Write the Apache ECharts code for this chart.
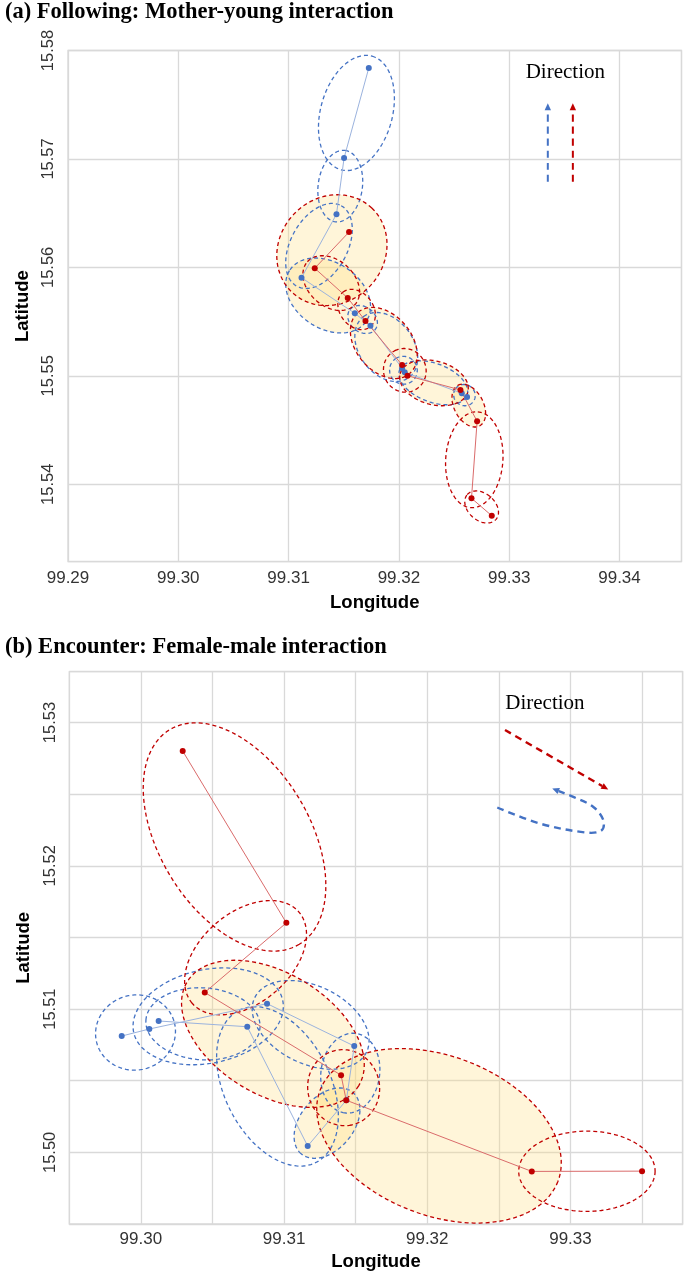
<!DOCTYPE html>
<html><head><meta charset="utf-8">
<script src="https://cdn.jsdelivr.net/npm/echarts@6/dist/echarts.min.js"></script>
<style>html,body{margin:0;padding:0;background:#fff}#c{width:685px;height:1272px}</style>
</head><body><div id="c"></div>
<script>
// ---------- (a) Following: Mother-young interaction ----------
const aRedLon  = [99.32842, 99.32658, 99.32709, 99.32558, 99.32078, 99.32029, 99.31697, 99.31536, 99.31237, 99.31548];
const aRedLat  = [15.53710, 15.53871, 15.54581, 15.54870, 15.55001, 15.55100, 15.55506, 15.55718, 15.55992, 15.56326];
const aBlueLon = [99.32618, 99.32570, 99.32053, 99.32029, 99.31742, 99.31600, 99.31117, 99.31434, 99.31503, 99.31727];
const aBlueLat = [15.54805, 15.54839, 15.55033, 15.55070, 15.55462, 15.55577, 15.55905, 15.56490, 15.57009, 15.57839];
// semi-major axis of each movement ellipse (degrees), one per consecutive pair
const aRedReach  = [0.00175, 0.00443, 0.00212, 0.00323, 0.00203, 0.00369, 0.00203, 0.00295, 0.00535];
const aRedFill   = [0, 0, 1, 1, 0, 1, 0, 0, 1];
const aBlueReach = [0.00101, 0.00332, 0.00129, 0.00350, 0.00148, 0.00424, 0.00424, 0.00332, 0.00543];
const aBlueFill  = [0, 0, 0, 0, 0, 1, 0, 0, 0];
const aArrowBlueLon = [99.33350, 99.33350];
const aArrowBlueLat = [15.56790, 15.57513];
const aArrowRedLon  = [99.33577, 99.33577];
const aArrowRedLat  = [15.56790, 15.57513];
const aNoteLon = 99.33509, aNoteLat = 15.57795;

// ---------- (b) Encounter: Female-male interaction ----------
const bRedLon  = [99.30292, 99.31016, 99.30446, 99.31398, 99.31434, 99.32730, 99.33500];
const bRedLat  = [15.52801, 15.51602, 15.51116, 15.50539, 15.50364, 15.49867, 15.49869];
const bBlueLon = [99.29866, 99.30059, 99.30881, 99.31490, 99.31435, 99.31165, 99.30743, 99.30124];
const bBlueLat = [15.50812, 15.50861, 15.51038, 15.50742, 15.50364, 15.50044, 15.50877, 15.50917];
const bRedReach  = [0.00875, 0.00490, 0.00700, 0.00266, 0.00889, 0.00476];
const bRedFill   = [0, 0, 1, 0, 1, 0];
const bBlueReach = [0.00280, 0.00532, 0.00434, 0.00280, 0.00280, 0.00595, 0.00399];
const bBlueFill  = [0, 0, 0, 0, 1, 0, 0];
const bArrowRedLon  = [99.32543, 99.33264];
const bArrowRedLat  = [15.52948, 15.52533];
const bArrowBlueLon = [99.32489, 99.32787, 99.33114, 99.33218, 99.33230, 99.33160, 99.33020, 99.32873];
const bArrowBlueLat = [15.52407, 15.52295, 15.52232, 15.52248, 15.52318, 15.52411, 15.52481, 15.52540];
const bNoteLon = 99.32822, bNoteLat = 15.53134;

// axis tick labels
const aXTicks = ['99.29','99.30','99.31','99.32','99.33','99.34'];
const aYTicks = ['15.54','15.55','15.56','15.57','15.58'];
const bXTicks = ['99.30','99.31','99.32','99.33'];
const bYTicks = ['15.50','15.51','15.52','15.53'];

const RED = '#C00000', BLUE = '#4472C4';
const RED_LINE = '#DA6B6B', BLUE_LINE = '#9BB3DE';
const FILL = 'rgba(255, 222, 130, 0.30)';

function pairs(lon, lat) { return lon.map((v, i) => [v, lat[i]]); }
function ellipseData(lon, lat, reach, fill) {
  const out = [];
  for (let i = 0; i < reach.length; i++) out.push([lon[i], lat[i], lon[i+1], lat[i+1], reach[i], fill[i]]);
  return out;
}
function ellipsePoints(api) {
  const p1 = api.coord([api.value(0), api.value(1)]);
  const p2 = api.coord([api.value(2), api.value(3)]);
  const a = api.size([0, api.value(4)])[1];
  const cx = (p1[0] + p2[0]) / 2, cy = (p1[1] + p2[1]) / 2;
  const dx = p2[0] - p1[0], dy = p2[1] - p1[1];
  const d = Math.hypot(dx, dy);
  const c = d / 2;
  const b = Math.sqrt(Math.max(a * a - c * c, 1));
  const ux = d > 0 ? dx / d : 1, uy = d > 0 ? dy / d : 0;
  const vx = -uy, vy = ux;
  const pts = [];
  for (let k = 0; k < 120; k++) {
    const t = k / 120 * Math.PI * 2;
    const ca = Math.cos(t) * a, sb = Math.sin(t) * b;
    pts.push([cx + ux * ca + vx * sb, cy + uy * ca + vy * sb]);
  }
  return pts;
}
function ellipseSeries(grid, data, color, mode) {
  return {
    type: 'custom', xAxisIndex: grid, yAxisIndex: grid, silent: true,
    z: mode === 'fill' ? 1 : 2,
    encode: { x: 0, y: 1 },
    data: data,
    renderItem: function (params, api) {
      if (mode === 'fill' && !api.value(5)) return null;
      const pts = ellipsePoints(api);
      if (mode === 'fill') {
        return { type: 'polygon', shape: { points: pts }, style: { fill: FILL, stroke: null } };
      }
      return { type: 'polygon', shape: { points: pts },
        style: { fill: null, stroke: color, lineWidth: 1.3, lineDash: [4, 3] } };
    }
  };
}
function trackSeries(grid, lon, lat, color, lineColor) {
  return {
    type: 'line', xAxisIndex: grid, yAxisIndex: grid, z: 4,
    data: pairs(lon, lat), symbol: 'circle', symbolSize: 6, showSymbol: true,
    lineStyle: { color: lineColor, width: 1 }, itemStyle: { color: color },
    emphasis: { disabled: true }
  };
}
function arrowSeries(grid, lon, lat, color, width) {
  return {
    type: 'custom', xAxisIndex: grid, yAxisIndex: grid, silent: true, z: 3,
    data: [[lon[0], lat[0]]],
    renderItem: function (params, api) {
      const pts = lon.map((v, i) => api.coord([v, lat[i]]));
      const n = pts.length;
      const e = pts[n - 1], s = pts[n - 2];
      const dx = e[0] - s[0], dy = e[1] - s[1];
      const d = Math.hypot(dx, dy), ux = dx / d, uy = dy / d;
      const L = 7, W = 3.2;
      const base = [e[0] - ux * L, e[1] - uy * L];
      const line = pts.slice(0, n - 1).concat([base]);
      return { type: 'group', children: [
        { type: 'polyline', shape: { points: line, smooth: 0.35 },
          style: { fill: null, stroke: color, lineWidth: width, lineDash: [7, 5] } },
        { type: 'polygon', shape: { points: [e, [base[0] - uy * W, base[1] + ux * W], [base[0] + uy * W, base[1] - ux * W]] },
          style: { fill: color } }
      ]};
    }
  };
}
function noteSeries(grid, lon, lat) {
  return {
    type: 'custom', xAxisIndex: grid, yAxisIndex: grid, silent: true, z: 3,
    data: [[lon, lat]],
    renderItem: function (params, api) {
      const p = api.coord([api.value(0), api.value(1)]);
      return { type: 'text', x: p[0], y: p[1],
        style: { text: 'Direction', fill: '#000', font: '21px "Liberation Serif", "Times New Roman", serif',
          align: 'center', verticalAlign: 'middle' } };
    }
  };
}
function labelFmt(list) {
  return function (v) {
    const s = v.toFixed(2);
    return (Math.abs(v * 100 - Math.round(v * 100)) < 1e-6 && list.indexOf(s) >= 0) ? s : '';
  };
}
const gridLine = { show: true, lineStyle: { color: '#d9d9d9', width: 1.3 } };
const xLabelStyle = { fontFamily: '"Liberation Sans", Arial, sans-serif', fontSize: 17, color: '#333' };
const yLabelStyle = { fontFamily: '"Liberation Sans", Arial, sans-serif', fontSize: 16.5, color: '#333' };
const nameStyle = { fontFamily: '"Liberation Sans", Arial, sans-serif', fontSize: 18.5, fontWeight: 'bold', color: '#000' };
const titleStyle = { fontFamily: '"Liberation Serif", "Times New Roman", serif', fontWeight: 'bold', fontSize: 22.5, color: '#000' };

const chart = echarts.init(document.getElementById('c'), null, { renderer: 'canvas' });
chart.setOption({
  animation: false,
  backgroundColor: '#fff',
  title: [
    { text: '(a) Following: Mother-young interaction', left: 0, top: -4, textStyle: titleStyle },
    { text: '(b) Encounter: Female-male interaction', left: 0, top: 631, textStyle: titleStyle }
  ],
  grid: [
    { left: 68, top: 50.5, width: 613.5, height: 511.2, show: true, borderColor: '#d9d9d9', borderWidth: 1.3 },
    { left: 69.3, top: 671.7, width: 613.4, height: 552.3, show: true, borderColor: '#d9d9d9', borderWidth: 1.3 }
  ],
  xAxis: [
    { type: 'value', gridIndex: 0, min: 99.29, max: 99.34562, interval: 0.01,
      axisLine: { show: false }, axisTick: { show: false }, splitLine: gridLine,
      axisLabel: Object.assign({ margin: 8, formatter: labelFmt(aXTicks), showMaxLabel: false }, xLabelStyle),
      name: 'Longitude', nameLocation: 'middle', nameGap: 32, nameTextStyle: nameStyle },
    { type: 'value', gridIndex: 1, min: 99.295, max: 99.33784, interval: 0.005,
      axisLine: { show: false }, axisTick: { show: false }, splitLine: gridLine,
      axisLabel: Object.assign({ margin: 7, formatter: labelFmt(bXTicks), showMaxLabel: false, showMinLabel: false }, xLabelStyle),
      name: 'Longitude', nameLocation: 'middle', nameGap: 28, nameTextStyle: nameStyle }
  ],
  yAxis: [
    { type: 'value', gridIndex: 0, min: 15.53286, max: 15.58, minInterval: 0.01, maxInterval: 0.01, splitNumber: 5,
      axisLine: { show: false }, axisTick: { show: false }, splitLine: gridLine,
      axisLabel: Object.assign({ margin: 11, rotate: 90, formatter: labelFmt(aYTicks), showMinLabel: false }, yLabelStyle),
      name: 'Latitude', nameLocation: 'middle', nameRotate: 90, nameGap: 36, nameTextStyle: nameStyle },
    { type: 'value', gridIndex: 1, min: 15.495, max: 15.53355, interval: 0.005,
      axisLine: { show: false }, axisTick: { show: false }, splitLine: gridLine,
      axisLabel: Object.assign({ margin: 10, rotate: 90, formatter: labelFmt(bYTicks), showMinLabel: false, showMaxLabel: false }, yLabelStyle),
      name: 'Latitude', nameLocation: 'middle', nameRotate: 90, nameGap: 36, nameTextStyle: nameStyle }
  ],
  series: [
    ellipseSeries(0, ellipseData(aRedLon, aRedLat, aRedReach, aRedFill), RED, 'fill'),
    ellipseSeries(0, ellipseData(aBlueLon, aBlueLat, aBlueReach, aBlueFill), BLUE, 'fill'),
    ellipseSeries(0, ellipseData(aBlueLon, aBlueLat, aBlueReach, aBlueFill), BLUE, 'line'),
    ellipseSeries(0, ellipseData(aRedLon, aRedLat, aRedReach, aRedFill), RED, 'line'),
    trackSeries(0, aBlueLon, aBlueLat, BLUE, BLUE_LINE),
    trackSeries(0, aRedLon, aRedLat, RED, RED_LINE),
    arrowSeries(0, aArrowBlueLon, aArrowBlueLat, BLUE, 2),
    arrowSeries(0, aArrowRedLon, aArrowRedLat, RED, 2),
    noteSeries(0, aNoteLon, aNoteLat),

    ellipseSeries(1, ellipseData(bRedLon, bRedLat, bRedReach, bRedFill), RED, 'fill'),
    ellipseSeries(1, ellipseData(bBlueLon, bBlueLat, bBlueReach, bBlueFill), BLUE, 'fill'),
    ellipseSeries(1, ellipseData(bBlueLon, bBlueLat, bBlueReach, bBlueFill), BLUE, 'line'),
    ellipseSeries(1, ellipseData(bRedLon, bRedLat, bRedReach, bRedFill), RED, 'line'),
    trackSeries(1, bBlueLon, bBlueLat, BLUE, BLUE_LINE),
    trackSeries(1, bRedLon, bRedLat, RED, RED_LINE),
    arrowSeries(1, bArrowRedLon, bArrowRedLat, RED, 2.4),
    arrowSeries(1, bArrowBlueLon, bArrowBlueLat, BLUE, 2.4),
    noteSeries(1, bNoteLon, bNoteLat)
  ]
});
</script></body></html>
